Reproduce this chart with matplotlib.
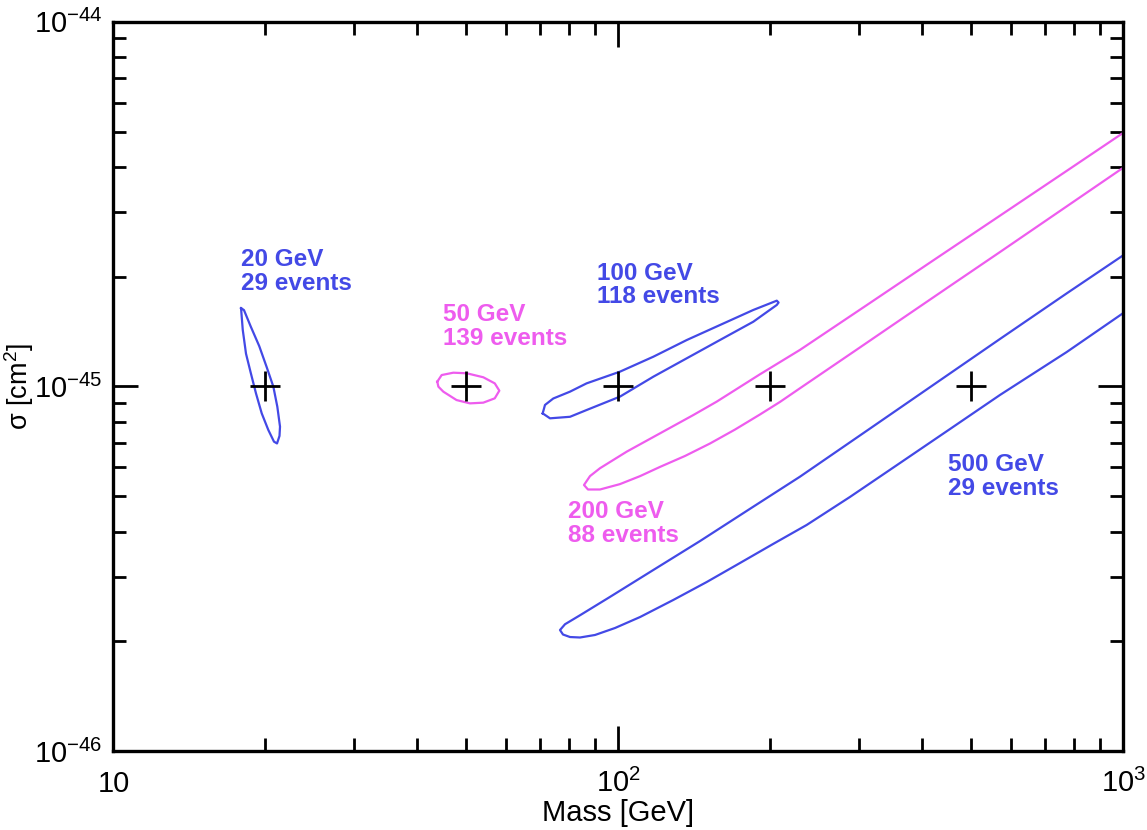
import numpy as np
import matplotlib
matplotlib.use("Agg")
import matplotlib.pyplot as plt

plt.rcParams['font.family'] = ['Liberation Sans', 'DejaVu Sans']
plt.rcParams['mathtext.fontset'] = 'custom'
plt.rcParams['mathtext.rm'] = 'Liberation Sans'
plt.rcParams['mathtext.it'] = 'Liberation Sans:italic'
plt.rcParams['mathtext.bf'] = 'Liberation Sans:bold'

# contour points: mass [GeV], cross section [1e-45 cm^2]
c20_m = [17.89, 18.03, 18.3, 18.7, 19.15, 19.66, 20.26, 20.79, 21.08, 21.32, 21.37, 21.11, 20.73, 20.11, 19.44, 18.7, 18.13, 17.89]
c20_s = [1.64, 1.43, 1.23, 1.09, 0.958, 0.844, 0.76, 0.706, 0.698, 0.732, 0.776, 0.88, 0.999, 1.13, 1.29, 1.46, 1.62, 1.64]

c50_m = [43.78, 44.67, 47.1, 50.07, 54.0, 56.9, 58.1, 56.9, 54.0, 50.8, 47.8, 45.0, 44.0, 43.78]
c50_s = [1.031, 1.075, 1.091, 1.087, 1.060, 1.020, 0.974, 0.928, 0.903, 0.899, 0.918, 0.968, 0.999, 1.031]

c100_m = [70.8, 71.55, 74.3, 80.2, 86.5, 100.7, 117.3, 136.6, 158.9, 185.0, 205.9, 207.6, 205.9, 185.0, 158.9,
          136.6, 117.3, 100.7, 86.5, 80.2, 73.2, 70.8]
c100_s = [0.844, 0.890, 0.927, 0.968, 1.020, 1.098, 1.207, 1.341, 1.474, 1.621, 1.719, 1.699, 1.673, 1.505, 1.341,
          1.195, 1.064, 0.938, 0.862, 0.826, 0.818, 0.844]

c200_m = [1000, 772.5, 569.9, 420.4, 310.3, 228.9, 190.7, 156.6, 140.7, 120.9, 103.9, 91.95, 87.85, 85.48, 87.05,
          91.95, 100.7, 110.4, 120.9, 135.5, 151.9, 170.2, 190.7, 208.9, 228.9, 296.5, 361.2, 453.7, 569.9, 772.5, 1000]
c200_s = [4.96, 3.90, 2.94, 2.217, 1.671, 1.26, 1.08, 0.909, 0.835, 0.744, 0.663, 0.597, 0.568, 0.537, 0.522,
          0.522, 0.54, 0.568, 0.602, 0.645, 0.698, 0.762, 0.838, 0.907, 0.989, 1.262, 1.521, 1.886, 2.337, 3.117, 3.98]

c500_m = [1000, 772.5, 569.9, 420.4, 310.3, 228.9, 182.2, 145.1, 115.5, 96.24, 83.94, 78.39, 76.62, 77.67, 80.2,
          83.94, 89.9, 98.5, 110.4, 128.5, 149.6, 174.1, 202.4, 236.0, 287.5, 361.2, 453.7, 569.9, 772.5, 1000]
c500_s = [2.29, 1.8, 1.35, 1.01, 0.756, 0.566, 0.462, 0.377, 0.31, 0.265, 0.236, 0.223, 0.215, 0.209, 0.2057,
          0.2051, 0.2084, 0.2178, 0.2334, 0.26, 0.2911, 0.3282, 0.370, 0.4173, 0.498, 0.617, 0.7646, 0.948, 1.243, 1.59]

# true values of the simulated signals
true_m = [20, 50, 100, 200, 500]
true_s = [1.0, 1.0, 1.0, 1.0, 1.0]

labels = ['20 GeV\n29 events', '50 GeV\n139 events', '100 GeV\n118 events', '200 GeV\n88 events', '500 GeV\n29 events']
label_m = [17.89, 44.88, 90.58, 79.57, 450.2]
label_s = [2.4, 1.69, 2.2, 0.489, 0.657]

blue = '#4349e6'
pink = '#ee5cee'
cols = [blue, pink, blue, pink, blue]

fig = plt.figure(figsize=(11.47, 8.30), dpi=100)
ax = fig.add_axes([0.09895, 0.09482, 0.88039, 0.87904])

curves = [(c20_m, c20_s), (c50_m, c50_s), (c100_m, c100_s), (c200_m, c200_s), (c500_m, c500_s)]
for (cm, cs), c in zip(curves, cols):
    ax.plot(cm, np.array(cs) * 1e-45, color=c, lw=1.6)

ax.plot(true_m, np.array(true_s) * 1e-45, ls='none', marker='+', ms=22, mew=2, color='black')

for t, lm, ls_, c in zip(labels, label_m, label_s, cols):
    ax.text(lm, ls_ * 1e-45, t, color=c, fontsize=17.5, fontweight='bold', ha='left', va='top',
            linespacing=1.05)

ax.set_xscale('log')
ax.set_yscale('log')
ax.set_xlim(10, 1000)
ax.set_ylim(1e-46, 1e-44)

ax.set_xticks([10, 100, 1000])
ax.set_xticklabels(['10', '$10^{2}$', '$10^{3}$'])
ax.set_yticks([1e-46, 1e-45, 1e-44])
ax.set_yticklabels(['$10^{-46}$', '$10^{-45}$', '$10^{-44}$'])

ax.tick_params(which='both', direction='in', top=True, right=True, width=2, color='black')
ax.tick_params(which='major', length=18, labelsize=21)
ax.tick_params(which='minor', length=9.5)
ax.tick_params(axis='x', which='major', pad=29)
ax.tick_params(axis='y', which='major', pad=8)
for lbl in ax.get_xticklabels():
    lbl.set_verticalalignment('baseline')
for sp in ax.spines.values():
    sp.set_linewidth(2.4)

ax.set_xlabel('Mass [GeV]', fontsize=21, labelpad=1)
ax.set_ylabel('σ [cm$^{2}$]', fontsize=19.5)
ax.yaxis.set_label_coords(-0.0765, 0.5)

fig.savefig('out.png', dpi=100)
